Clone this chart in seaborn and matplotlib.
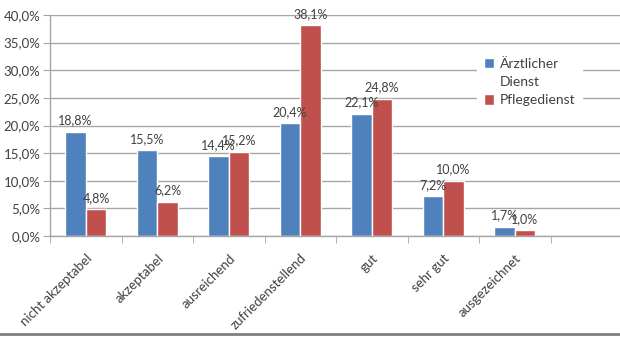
import matplotlib
matplotlib.use("Agg")
import matplotlib.pyplot as plt
import seaborn as sns
import pandas as pd
from matplotlib.lines import Line2D
from matplotlib.patches import Rectangle
from matplotlib.ticker import FuncFormatter, FixedLocator

categories = ["nicht akzeptabel", "akzeptabel", "ausreichend", "zufriedenstellend",
              "gut", "sehr gut", "ausgezeichnet"]
aerztlich = [18.8, 15.5, 14.4, 20.4, 22.1, 7.2, 1.7]
pflege = [4.8, 6.2, 15.2, 38.1, 24.8, 10.0, 1.0]
series_names = ["Ärztlicher Dienst", "Pflegedienst"]
legend_lines = ["Ärztlicher", "Dienst", "Pflegedienst"]
yticks = [0, 5, 10, 15, 20, 25, 30, 35, 40]

df = pd.DataFrame({
    "Kategorie": categories * 2,
    "Wert": aerztlich + pflege,
    "Gruppe": [series_names[0]] * len(categories) + [series_names[1]] * len(categories),
})

sns.set_style("white")
plt.rcParams["font.family"] = ["Lato", "DejaVu Sans"]
txt = "#404040"
grid = "#a6a6a6"
fs = 9.5

W, H = 620, 337
fig = plt.figure(figsize=(W / 100, H / 100), dpi=100)
ax = fig.add_axes([50 / W, 1 - 236 / H, (622 - 50) / W, (236 - 15) / H])

sns.barplot(data=df, x="Kategorie", y="Wert", hue="Gruppe", order=categories,
            hue_order=series_names, palette=["#4F81BD", "#C0504D"], width=0.57,
            saturation=1, ax=ax, legend=True)

ax.set_xlim(-0.5, 7.5)
ax.set_ylim(0, 40)
ax.set_xlabel("")
ax.set_ylabel("")
ax.yaxis.set_major_locator(FixedLocator(yticks))
ax.yaxis.set_major_formatter(FuncFormatter(lambda v, p: f"{v:.1f}%".replace(".", ",")))
ax.grid(axis="y", color=grid, linewidth=1)
ax.set_axisbelow(True)

for s in ["top", "right"]:
    ax.spines[s].set_visible(False)
for s in ["left", "bottom"]:
    ax.spines[s].set_color(grid)
    ax.spines[s].set_linewidth(1)

ax.tick_params(axis="y", which="major", left=True, length=5, color=grid,
               labelsize=fs, labelcolor=txt, pad=2)
ax.set_xticks(range(len(categories)))
ax.set_xticklabels(categories, rotation=45, ha="right", rotation_mode="anchor",
                   fontsize=fs, color=txt)
ax.tick_params(axis="x", which="major", bottom=False, pad=8)
ax.set_xticks([i - 0.5 for i in range(9)], minor=True)
ax.tick_params(axis="x", which="minor", bottom=True, length=5, color=grid)

for cont in ax.containers:
    labels = [f"{b.get_height():.1f}%".replace(".", ",") for b in cont]
    ax.bar_label(cont, labels=labels, padding=4, fontsize=9, color=txt)

handles, _ = ax.get_legend_handles_labels()
blank = Rectangle((0, 0), 1, 1, alpha=0)
leg = ax.legend([handles[0], blank, handles[1]], legend_lines, loc="upper left",
                bbox_to_anchor=(470 / W, 1 - 44 / H), bbox_transform=fig.transFigure,
                frameon=True, facecolor="white", edgecolor="white", framealpha=1,
                fancybox=False, fontsize=fs + 0.5, handlelength=0.75, handleheight=0.75,
                handletextpad=0.4, labelspacing=0.45, borderpad=0.5,
                labelcolor=txt)

fig.add_artist(Line2D([0, 1], [3 / H, 3 / H], transform=fig.transFigure,
                      color="#808080", linewidth=2))

fig.savefig("out.png", dpi=100)
